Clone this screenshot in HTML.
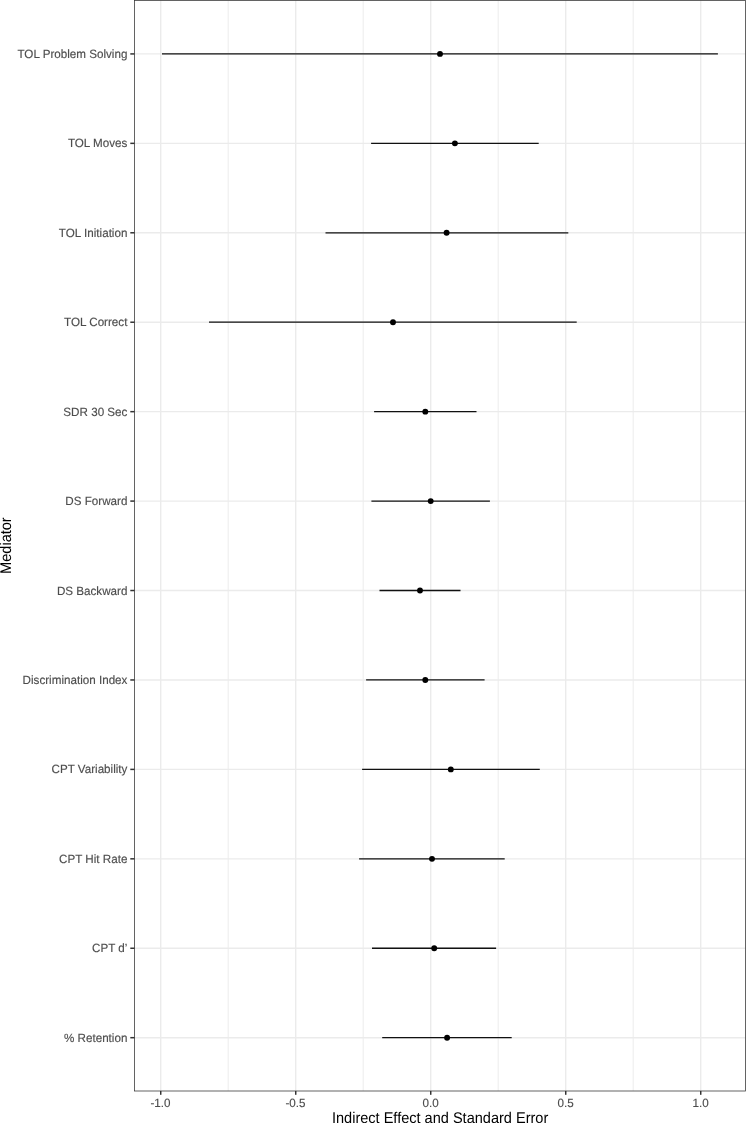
<!DOCTYPE html><html><head><meta charset="utf-8"><title>Indirect Effect and Standard Error</title>
<style>html,body{margin:0;padding:0;background:#fff}svg{display:block}text{font-family:"Liberation Sans",sans-serif;text-rendering:geometricPrecision}.at{font-size:11.95px;fill:#4d4d4d;stroke:#4d4d4d;stroke-width:.15px}.ti{font-size:15.5px;fill:#000}</style></head><body>
<svg width="746" height="1123" viewBox="0 0 746 1123">
<rect x="0" y="0" width="746" height="1123" fill="#fff"/>
<line x1="228.22" x2="228.22" y1="0.5" y2="1091.0" stroke="#ebebeb" stroke-width="0.95"/>
<line x1="363.22" x2="363.22" y1="0.5" y2="1091.0" stroke="#ebebeb" stroke-width="0.95"/>
<line x1="498.22" x2="498.22" y1="0.5" y2="1091.0" stroke="#ebebeb" stroke-width="0.95"/>
<line x1="633.22" x2="633.22" y1="0.5" y2="1091.0" stroke="#ebebeb" stroke-width="0.95"/>
<line x1="160.72" x2="160.72" y1="0.5" y2="1091.0" stroke="#ebebeb" stroke-width="1.4"/>
<line x1="295.72" x2="295.72" y1="0.5" y2="1091.0" stroke="#ebebeb" stroke-width="1.4"/>
<line x1="430.72" x2="430.72" y1="0.5" y2="1091.0" stroke="#ebebeb" stroke-width="1.4"/>
<line x1="565.72" x2="565.72" y1="0.5" y2="1091.0" stroke="#ebebeb" stroke-width="1.4"/>
<line x1="700.72" x2="700.72" y1="0.5" y2="1091.0" stroke="#ebebeb" stroke-width="1.4"/>
<line x1="134.5" x2="745.5" y1="53.92" y2="53.92" stroke="#ebebeb" stroke-width="1.4"/>
<line x1="134.5" x2="745.5" y1="143.35" y2="143.35" stroke="#ebebeb" stroke-width="1.4"/>
<line x1="134.5" x2="745.5" y1="232.79" y2="232.79" stroke="#ebebeb" stroke-width="1.4"/>
<line x1="134.5" x2="745.5" y1="322.22" y2="322.22" stroke="#ebebeb" stroke-width="1.4"/>
<line x1="134.5" x2="745.5" y1="411.66" y2="411.66" stroke="#ebebeb" stroke-width="1.4"/>
<line x1="134.5" x2="745.5" y1="501.09" y2="501.09" stroke="#ebebeb" stroke-width="1.4"/>
<line x1="134.5" x2="745.5" y1="590.52" y2="590.52" stroke="#ebebeb" stroke-width="1.4"/>
<line x1="134.5" x2="745.5" y1="679.96" y2="679.96" stroke="#ebebeb" stroke-width="1.4"/>
<line x1="134.5" x2="745.5" y1="769.39" y2="769.39" stroke="#ebebeb" stroke-width="1.4"/>
<line x1="134.5" x2="745.5" y1="858.83" y2="858.83" stroke="#ebebeb" stroke-width="1.4"/>
<line x1="134.5" x2="745.5" y1="948.26" y2="948.26" stroke="#ebebeb" stroke-width="1.4"/>
<line x1="134.5" x2="745.5" y1="1037.69" y2="1037.69" stroke="#ebebeb" stroke-width="1.4"/>
<line x1="162.0" x2="717.9" y1="53.92" y2="53.92" stroke="#111" stroke-width="1.3"/>
<circle cx="440.0" cy="53.92" r="2.95" fill="#000"/>
<line x1="371.1" x2="538.7" y1="143.35" y2="143.35" stroke="#111" stroke-width="1.3"/>
<circle cx="454.9" cy="143.35" r="2.95" fill="#000"/>
<line x1="325.5" x2="568.3" y1="232.79" y2="232.79" stroke="#111" stroke-width="1.3"/>
<circle cx="446.6" cy="232.79" r="2.95" fill="#000"/>
<line x1="209.0" x2="576.7" y1="322.22" y2="322.22" stroke="#111" stroke-width="1.3"/>
<circle cx="393.0" cy="322.22" r="2.95" fill="#000"/>
<line x1="374.1" x2="476.5" y1="411.66" y2="411.66" stroke="#111" stroke-width="1.3"/>
<circle cx="425.3" cy="411.66" r="2.95" fill="#000"/>
<line x1="371.4" x2="489.9" y1="501.09" y2="501.09" stroke="#111" stroke-width="1.3"/>
<circle cx="430.7" cy="501.09" r="2.95" fill="#000"/>
<line x1="379.5" x2="460.5" y1="590.52" y2="590.52" stroke="#111" stroke-width="1.3"/>
<circle cx="420.0" cy="590.52" r="2.95" fill="#000"/>
<line x1="366.1" x2="484.6" y1="679.96" y2="679.96" stroke="#111" stroke-width="1.3"/>
<circle cx="425.3" cy="679.96" r="2.95" fill="#000"/>
<line x1="362.1" x2="539.8" y1="769.39" y2="769.39" stroke="#111" stroke-width="1.3"/>
<circle cx="450.8" cy="769.39" r="2.95" fill="#000"/>
<line x1="359.1" x2="504.7" y1="858.83" y2="858.83" stroke="#111" stroke-width="1.3"/>
<circle cx="432.0" cy="858.83" r="2.95" fill="#000"/>
<line x1="372.0" x2="496.1" y1="948.26" y2="948.26" stroke="#111" stroke-width="1.3"/>
<circle cx="434.2" cy="948.26" r="2.95" fill="#000"/>
<line x1="382.2" x2="511.7" y1="1037.69" y2="1037.69" stroke="#111" stroke-width="1.3"/>
<circle cx="447.1" cy="1037.69" r="2.95" fill="#000"/>
<rect x="134.5" y="0.5" width="611.0" height="1090.5" fill="none" stroke="#333" stroke-width="0.76"/>
<line x1="130.3" x2="134.5" y1="53.92" y2="53.92" stroke="#333" stroke-width="1.5"/>
<text class="at" transform="translate(127.4,57.92) scale(0.975,1)" text-anchor="end">TOL Problem Solving</text>
<line x1="130.3" x2="134.5" y1="143.35" y2="143.35" stroke="#333" stroke-width="1.5"/>
<text class="at" transform="translate(127.4,147.35) scale(0.975,1)" text-anchor="end">TOL Moves</text>
<line x1="130.3" x2="134.5" y1="232.79" y2="232.79" stroke="#333" stroke-width="1.5"/>
<text class="at" transform="translate(127.4,236.79) scale(0.975,1)" text-anchor="end">TOL Initiation</text>
<line x1="130.3" x2="134.5" y1="322.22" y2="322.22" stroke="#333" stroke-width="1.5"/>
<text class="at" transform="translate(127.4,326.22) scale(0.975,1)" text-anchor="end">TOL Correct</text>
<line x1="130.3" x2="134.5" y1="411.66" y2="411.66" stroke="#333" stroke-width="1.5"/>
<text class="at" transform="translate(127.4,415.66) scale(0.975,1)" text-anchor="end">SDR 30 Sec</text>
<line x1="130.3" x2="134.5" y1="501.09" y2="501.09" stroke="#333" stroke-width="1.5"/>
<text class="at" transform="translate(127.4,505.09) scale(0.975,1)" text-anchor="end">DS Forward</text>
<line x1="130.3" x2="134.5" y1="590.52" y2="590.52" stroke="#333" stroke-width="1.5"/>
<text class="at" transform="translate(127.4,594.52) scale(0.975,1)" text-anchor="end">DS Backward</text>
<line x1="130.3" x2="134.5" y1="679.96" y2="679.96" stroke="#333" stroke-width="1.5"/>
<text class="at" transform="translate(127.4,683.96) scale(0.975,1)" text-anchor="end">Discrimination Index</text>
<line x1="130.3" x2="134.5" y1="769.39" y2="769.39" stroke="#333" stroke-width="1.5"/>
<text class="at" transform="translate(127.4,773.39) scale(0.975,1)" text-anchor="end">CPT Variability</text>
<line x1="130.3" x2="134.5" y1="858.83" y2="858.83" stroke="#333" stroke-width="1.5"/>
<text class="at" transform="translate(127.4,862.83) scale(0.975,1)" text-anchor="end">CPT Hit Rate</text>
<line x1="130.3" x2="134.5" y1="948.26" y2="948.26" stroke="#333" stroke-width="1.5"/>
<text class="at" transform="translate(127.4,952.26) scale(0.975,1)" text-anchor="end">CPT d’</text>
<line x1="130.3" x2="134.5" y1="1037.69" y2="1037.69" stroke="#333" stroke-width="1.5"/>
<text class="at" transform="translate(127.4,1041.69) scale(0.975,1)" text-anchor="end">% Retention</text>
<line x1="160.72" x2="160.72" y1="1091.0" y2="1094.8" stroke="#333" stroke-width="1.5"/>
<text class="at" transform="translate(160.52,1106.5) scale(0.975,1)" text-anchor="middle">-1.0</text>
<line x1="295.72" x2="295.72" y1="1091.0" y2="1094.8" stroke="#333" stroke-width="1.5"/>
<text class="at" transform="translate(295.52,1106.5) scale(0.975,1)" text-anchor="middle">-0.5</text>
<line x1="430.72" x2="430.72" y1="1091.0" y2="1094.8" stroke="#333" stroke-width="1.5"/>
<text class="at" transform="translate(430.52,1106.5) scale(0.975,1)" text-anchor="middle">0.0</text>
<line x1="565.72" x2="565.72" y1="1091.0" y2="1094.8" stroke="#333" stroke-width="1.5"/>
<text class="at" transform="translate(565.52,1106.5) scale(0.975,1)" text-anchor="middle">0.5</text>
<line x1="700.72" x2="700.72" y1="1091.0" y2="1094.8" stroke="#333" stroke-width="1.5"/>
<text class="at" transform="translate(700.52,1106.5) scale(0.975,1)" text-anchor="middle">1.0</text>
<text class="ti" transform="translate(440.1,1123.3) scale(0.938,1)" text-anchor="middle">Indirect Effect and Standard Error</text>
<text class="ti" transform="translate(10.6,545.6) rotate(-90) scale(0.938,1)" text-anchor="middle">Mediator</text>
</svg></body></html>
